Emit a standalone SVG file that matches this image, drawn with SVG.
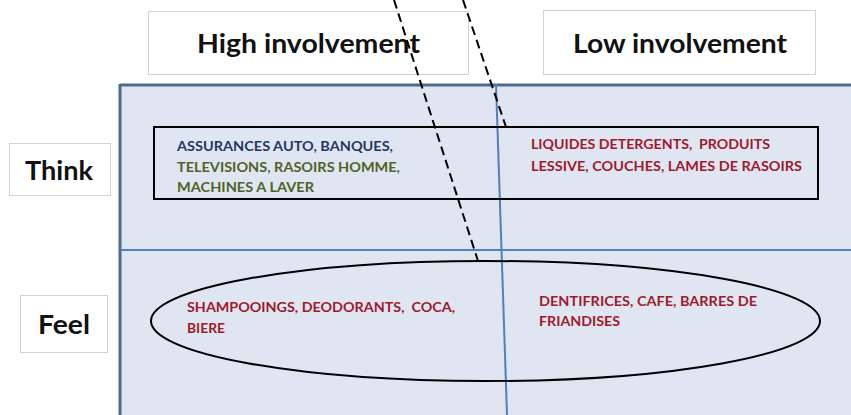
<svg xmlns="http://www.w3.org/2000/svg" width="851" height="415" viewBox="0 0 851 415">
  <style>
    .label { fill: #ffffff; stroke: #d2d2d2; stroke-width: 1; }
    .head { font-family: Lato, "Open Sans", "Liberation Sans", sans-serif; font-weight: bold; font-size: 26px; fill: #111111; }
    .item { font-family: Lato, "Open Sans", "Liberation Sans", sans-serif; font-weight: bold; font-size: 14px; white-space: pre; }
    .navy { fill: #1f3864; }
    .olive { fill: #4f6228; }
    .red { fill: #9e1a2c; }
    .grid { stroke: #4f81bd; stroke-width: 2; fill: none; }
    .group { fill: none; stroke: #000000; stroke-width: 2; }
    .link { stroke: #000000; stroke-width: 2; stroke-dasharray: 9 5; fill: none; }
  </style>

  <rect x="0" y="0" width="851" height="415" fill="#ffffff"/>

  <!-- matrix panel -->
  <g id="matrix">
    <rect x="120" y="85" width="740" height="340" fill="#dfe6f2"/>
    <line x1="120" y1="85" x2="851" y2="85" stroke="#4c6a8e" stroke-width="3"/>
    <line x1="120" y1="84" x2="120" y2="415" stroke="#4c6a8e" stroke-width="3"/>
    <line class="grid" x1="121" y1="250" x2="851" y2="250"/>
    <line class="grid" x1="496" y1="84" x2="507" y2="415"/>
  </g>

  <!-- column headers -->
  <g id="high-involvement">
    <rect class="label" x="148.5" y="11.5" width="320" height="63"/>
    <text class="head" x="197" y="53" textLength="223" lengthAdjust="spacingAndGlyphs">High involvement</text>
  </g>
  <g id="low-involvement">
    <rect class="label" x="543.5" y="10.5" width="272" height="64"/>
    <text class="head" x="573" y="53" textLength="214" lengthAdjust="spacingAndGlyphs">Low involvement</text>
  </g>

  <!-- row headers -->
  <g id="think">
    <rect class="label" x="9.5" y="143.5" width="101" height="52"/>
    <text class="head" x="25" y="180" textLength="68" lengthAdjust="spacingAndGlyphs">Think</text>
  </g>
  <g id="feel">
    <rect class="label" x="20.5" y="295.5" width="87" height="57"/>
    <text class="head" x="38" y="334" textLength="52" lengthAdjust="spacingAndGlyphs">Feel</text>
  </g>

  <!-- think group (rectangle) -->
  <g id="think-group">
    <rect class="group" x="154" y="127" width="664" height="72"/>
  </g>

  <!-- feel group (ellipse) -->
  <g id="feel-group">
    <ellipse class="group" cx="485.5" cy="321" rx="334.5" ry="60"/>
  </g>

  <g id="think-high">
    <text class="item navy" x="177" y="151" textLength="216" lengthAdjust="spacingAndGlyphs">ASSURANCES AUTO, BANQUES,</text>
    <text class="item olive" x="177" y="172" textLength="223" lengthAdjust="spacingAndGlyphs">TELEVISIONS, RASOIRS HOMME,</text>
    <text class="item olive" x="177" y="192" textLength="137" lengthAdjust="spacingAndGlyphs">MACHINES A LAVER</text>
  </g>
  <g id="think-low">
    <text class="item red" x="531" y="149" textLength="239" lengthAdjust="spacingAndGlyphs">LIQUIDES DETERGENTS,  PRODUITS</text>
    <text class="item red" x="531" y="171" textLength="271" lengthAdjust="spacingAndGlyphs">LESSIVE, COUCHES, LAMES DE RASOIRS</text>
  </g>
  <g id="feel-high">
    <text class="item red" x="187" y="312" textLength="268" lengthAdjust="spacingAndGlyphs">SHAMPOOINGS, DEODORANTS,  COCA,</text>
    <text class="item red" x="187" y="333" textLength="38" lengthAdjust="spacingAndGlyphs">BIERE</text>
  </g>
  <g id="feel-low">
    <text class="item red" x="539" y="306" textLength="218" lengthAdjust="spacingAndGlyphs">DENTIFRICES, CAFE, BARRES DE</text>
    <text class="item red" x="539" y="326" textLength="81" lengthAdjust="spacingAndGlyphs">FRIANDISES</text>
  </g>

  <!-- dashed connectors -->
  <g id="connectors">
    <line class="link" x1="394" y1="0" x2="478" y2="261"/>
    <line class="link" x1="463" y1="0" x2="506" y2="127"/>
  </g>
</svg>
